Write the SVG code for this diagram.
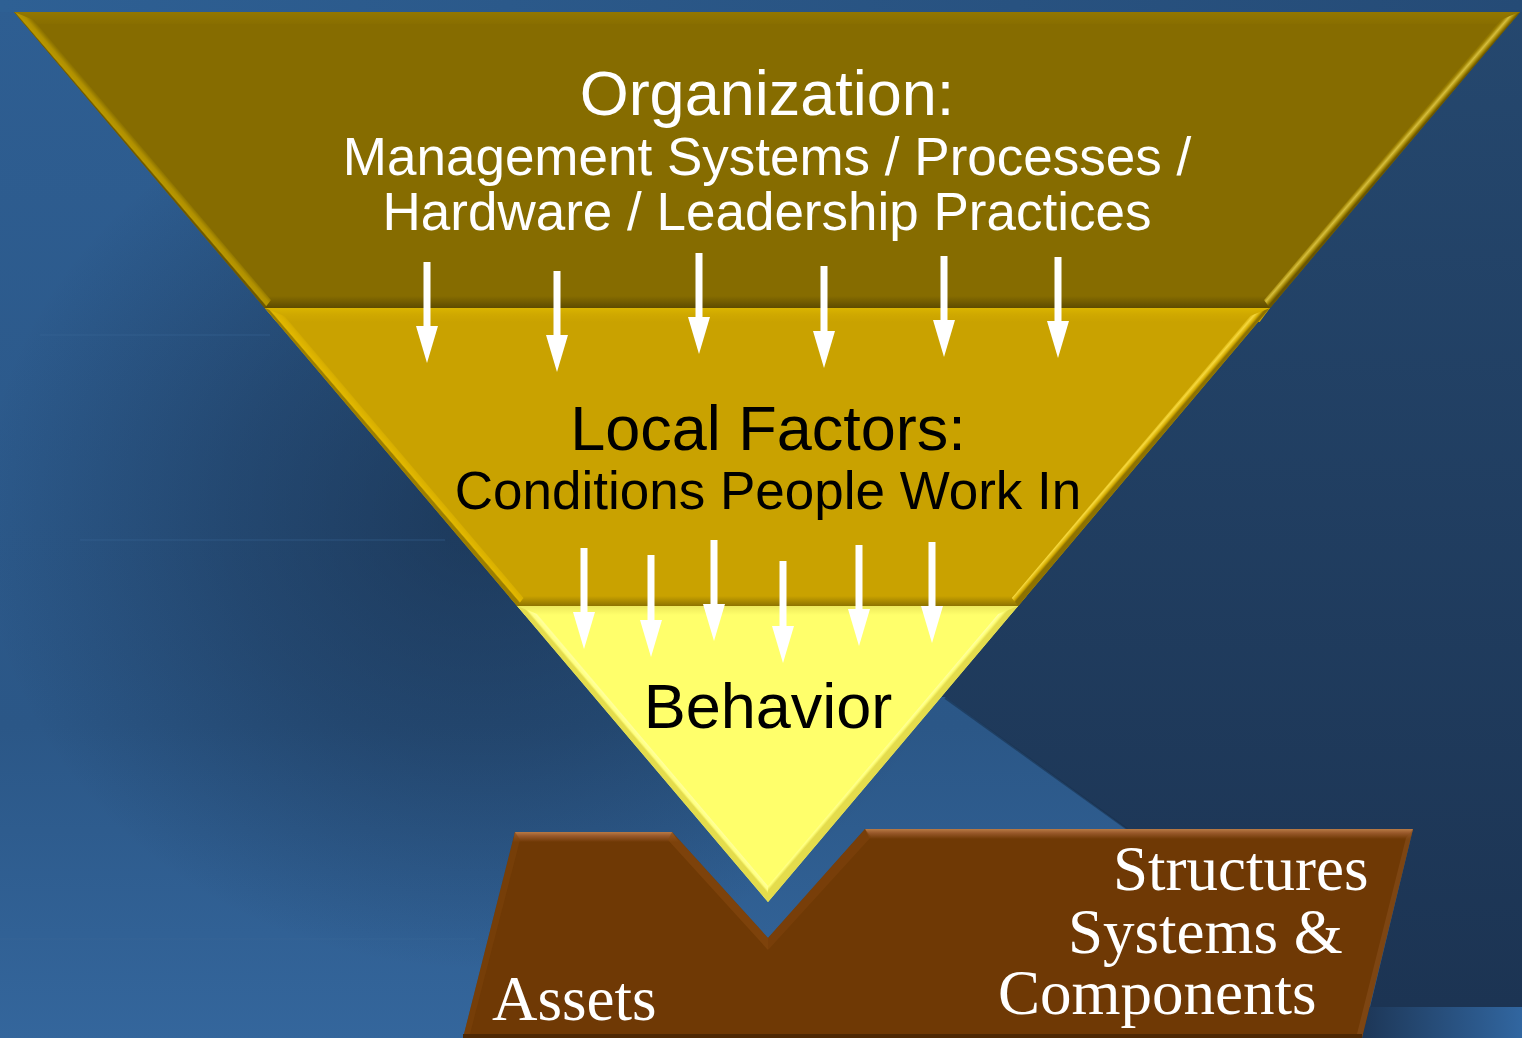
<svg xmlns="http://www.w3.org/2000/svg" width="1522" height="1038" viewBox="0 0 1522 1038">
<defs>
<style>
.sans{font-family:"Liberation Sans",Arial,sans-serif;text-anchor:middle}
.serif{font-family:"Liberation Serif","Times New Roman",serif;fill:#ffffff;font-size:63px}
.big{font-size:63px}
.mid{font-size:53px}
.w{fill:#ffffff}
.k{fill:#000000}
.arrow{stroke:#ffffff;stroke-width:7;fill:none;marker-end:url(#head)}
.faint{stroke:#3A6898;stroke-width:1.2;opacity:0.5}
</style>
<marker id="head" markerUnits="userSpaceOnUse" viewBox="0 -11 37 22" markerWidth="37" markerHeight="22" refX="0" refY="0" orient="auto">
<path d="M0,-11 L37,0 L0,11 Z" fill="#ffffff"/>
</marker>
<linearGradient id="bgBase" x1="0" y1="0" x2="0" y2="1">
<stop offset="0" stop-color="#2E5E92"/>
<stop offset="0.7" stop-color="#2B5787"/>
<stop offset="1" stop-color="#34669C"/>
</linearGradient>
<radialGradient id="shade" gradientUnits="userSpaceOnUse" cx="480" cy="520" r="500" gradientTransform="translate(480 520) scale(1 0.9) translate(-480 -520)">
<stop offset="0" stop-color="#0E1B2E" stop-opacity="0.5"/>
<stop offset="0.5" stop-color="#0E1B2E" stop-opacity="0.28"/>
<stop offset="1" stop-color="#0E1B2E" stop-opacity="0"/>
</radialGradient>
<linearGradient id="bgRight" x1="0" y1="0" x2="0" y2="1">
<stop offset="0" stop-color="#25486F"/>
<stop offset="1" stop-color="#1C3453"/>
</linearGradient>
<linearGradient id="topStrip" x1="0" y1="0" x2="1" y2="0">
<stop offset="0" stop-color="#2E6094"/>
<stop offset="1" stop-color="#254B76"/>
</linearGradient>
<linearGradient id="brCorner" x1="0" y1="0" x2="1" y2="0">
<stop offset="0" stop-color="#1D3656"/>
<stop offset="1" stop-color="#3166A0"/>
</linearGradient>
<linearGradient id="l1" gradientUnits="userSpaceOnUse" x1="14" y1="12" x2="21.6" y2="5.5">
<stop offset="0" stop-color="#6E5800"/>
<stop offset="0.12" stop-color="#B89700"/>
<stop offset="0.5" stop-color="#B09000"/>
<stop offset="0.8" stop-color="#957A00"/>
<stop offset="1" stop-color="#866C00"/>
</linearGradient>
<linearGradient id="r1" gradientUnits="userSpaceOnUse" x1="1520" y1="12" x2="1512.4" y2="5.5">
<stop offset="0" stop-color="#6A5500"/>
<stop offset="0.2" stop-color="#9E8200"/>
<stop offset="0.5" stop-color="#D6BE3C"/>
<stop offset="0.8" stop-color="#9A7E00"/>
<stop offset="1" stop-color="#866C00"/>
</linearGradient>
<linearGradient id="l2" gradientUnits="userSpaceOnUse" x1="14" y1="12" x2="21.6" y2="5.5">
<stop offset="0" stop-color="#9C7E00"/>
<stop offset="0.12" stop-color="#E2B800"/>
<stop offset="0.6" stop-color="#D9B000"/>
<stop offset="1" stop-color="#C9A200"/>
</linearGradient>
<linearGradient id="r2" gradientUnits="userSpaceOnUse" x1="1520" y1="12" x2="1512.4" y2="5.5">
<stop offset="0" stop-color="#8E7200"/>
<stop offset="0.2" stop-color="#D2AA00"/>
<stop offset="0.5" stop-color="#F6D83E"/>
<stop offset="0.8" stop-color="#D4AC00"/>
<stop offset="1" stop-color="#C9A200"/>
</linearGradient>
<linearGradient id="l3" gradientUnits="userSpaceOnUse" x1="14" y1="12" x2="21.6" y2="5.5">
<stop offset="0" stop-color="#E4DC4C"/>
<stop offset="0.2" stop-color="#FFFF80"/>
<stop offset="0.5" stop-color="#FFFF9C"/>
<stop offset="1" stop-color="#FFFF6B"/>
</linearGradient>
<linearGradient id="r3" gradientUnits="userSpaceOnUse" x1="1520" y1="12" x2="1512.4" y2="5.5">
<stop offset="0" stop-color="#E4DC4C"/>
<stop offset="0.25" stop-color="#FFFF78"/>
<stop offset="0.55" stop-color="#FFFFB0"/>
<stop offset="1" stop-color="#FFFF6B"/>
</linearGradient>
<linearGradient id="t1" x1="0" y1="0" x2="0" y2="1">
<stop offset="0" stop-color="#937700"/>
<stop offset="1" stop-color="#886E00"/>
</linearGradient>
<linearGradient id="b1" x1="0" y1="0" x2="0" y2="1">
<stop offset="0" stop-color="#866C00"/>
<stop offset="1" stop-color="#5E4B00"/>
</linearGradient>
<linearGradient id="t2" x1="0" y1="0" x2="0" y2="1">
<stop offset="0" stop-color="#D9B300"/>
<stop offset="0.5" stop-color="#CFA800"/>
<stop offset="1" stop-color="#C9A200"/>
</linearGradient>
<linearGradient id="b2" x1="0" y1="0" x2="0" y2="1">
<stop offset="0" stop-color="#C9A200"/>
<stop offset="1" stop-color="#8E7300"/>
</linearGradient>
<linearGradient id="t3" x1="0" y1="0" x2="0" y2="1">
<stop offset="0" stop-color="#EDE85C"/>
<stop offset="1" stop-color="#FFFF6B"/>
</linearGradient>
<linearGradient id="brTop" x1="0" y1="0" x2="0" y2="1">
<stop offset="0" stop-color="#B87A45"/>
<stop offset="0.4" stop-color="#98582A"/>
<stop offset="1" stop-color="#6F3905"/>
</linearGradient>
</defs>

<!-- background -->
<rect x="0" y="0" width="1522" height="1038" fill="url(#bgBase)"/>
<rect x="0" y="0" width="1000" height="1038" fill="url(#shade)"/>
<polygon points="700,0 1522,0 1522,1007 1370,1007 1413,829 1127,829 945,697 700,697" fill="url(#bgRight)"/>
<line x1="945" y1="698" x2="1127" y2="829" stroke="#18304C" stroke-width="2" opacity="0.6"/>
<rect x="0" y="0" width="1522" height="12" fill="url(#topStrip)"/>
<rect x="1360" y="1007" width="162" height="31" fill="url(#brCorner)"/>
<line class="faint" x1="40" y1="335" x2="270" y2="335"/>
<line class="faint" x1="80" y1="540" x2="445" y2="540"/>
<line class="faint" x1="0" y1="939" x2="475" y2="939"/>

<!-- Organization band -->
<g id="organization">
<polygon points="14,12 1520,12 1269.9,308 264.8,308" fill="#866C00"/>
<polygon points="14,12 1520,12 1510,24 24,24" fill="url(#t1)"/>
<polygon points="254.6,296 1280,296 1269.9,308 264.8,308" fill="url(#b1)"/>
<polygon points="14,12 34,20 271,300 264.8,308" fill="url(#l1)"/>
<polygon points="1520,12 1500,20 1264,300 1269.9,308" fill="url(#r1)"/>
<text class="sans w big" x="767" y="115">Organization:</text>
<text class="sans w mid" x="767" y="175">Management Systems / Processes /</text>
<text class="sans w mid" x="767" y="230">Hardware / Leadership Practices</text>
</g>

<!-- Local factors band -->
<g id="local-factors">
<polygon points="264.8,308 1269.9,308 1018.1,606 517.2,606" fill="#C9A200"/>
<polygon points="264.8,308 1269.9,308 1259.7,322 276.5,322" fill="url(#t2)"/>
<polygon points="508.8,596 1026.5,596 1018.1,606 517.2,606" fill="url(#b2)"/>
<polygon points="264.8,308 284.5,316 523.5,598 517.2,606" fill="url(#l2)"/>
<polygon points="1269.9,308 1250.1,316 1011.8,598 1018.1,606" fill="url(#r2)"/>
<text class="sans k big" x="768" y="450">Local Factors:</text>
<text class="sans k mid" x="768" y="509">Conditions People Work In</text>
</g>

<!-- Behavior band -->
<g id="behavior">
<polygon points="517.2,606 1018.1,606 768,902" fill="#FFFF6B"/>
<polygon points="517.2,606 1018.1,606 1010,615 525,615" fill="url(#t3)"/>
<polygon points="517.2,606 537,614 768,886 768,902" fill="url(#l3)"/>
<polygon points="1018.1,606 998.3,614 768,886 768,902" fill="url(#r3)"/>
<text class="sans k big" x="768" y="728">Behavior</text>
</g>

<!-- Assets base -->
<g id="assets">
<polygon points="515,832 672,832 768,938 865,829 1413,829 1362,1038 463,1038" fill="#6F3905"/>
<polygon points="515,832 672,832 679,842 513,842" fill="url(#brTop)"/>
<polygon points="865,829 1413,829 1410,839 870,839" fill="url(#brTop)"/>
<polygon points="672,832 768,938 768,950 668,840" fill="#87490F" opacity="0.6"/>
<polygon points="865,829 768,938 768,950 871,837" fill="#7E430C" opacity="0.6"/>
<polygon points="515,832 463,1038 469,1038 520,840" fill="#7E440C" opacity="0.5"/>
<polygon points="1413,829 1362,1038 1356,1038 1406,838" fill="#8C5220" opacity="0.5"/>
<rect x="463" y="1034" width="899" height="4" fill="#4E2804"/>
<text class="serif" x="492" y="1020">Assets</text>
<text class="serif" x="1113" y="890">Structures</text>
<text class="serif" x="1068" y="953">Systems &amp;</text>
<text class="serif" x="998" y="1014">Components</text>
</g>

<!-- connectors -->
<g id="connectors">
<line class="arrow" x1="427" y1="262" x2="427" y2="326"/>
<line class="arrow" x1="557" y1="271" x2="557" y2="335"/>
<line class="arrow" x1="699" y1="253" x2="699" y2="317"/>
<line class="arrow" x1="824" y1="266" x2="824" y2="331"/>
<line class="arrow" x1="944" y1="256" x2="944" y2="320"/>
<line class="arrow" x1="1058" y1="257" x2="1058" y2="321"/>
<line class="arrow" x1="584" y1="548" x2="584" y2="612"/>
<line class="arrow" x1="651" y1="555" x2="651" y2="620"/>
<line class="arrow" x1="714" y1="540" x2="714" y2="604"/>
<line class="arrow" x1="783" y1="561" x2="783" y2="626"/>
<line class="arrow" x1="859" y1="545" x2="859" y2="609"/>
<line class="arrow" x1="932" y1="542" x2="932" y2="606"/>
</g>
</svg>
